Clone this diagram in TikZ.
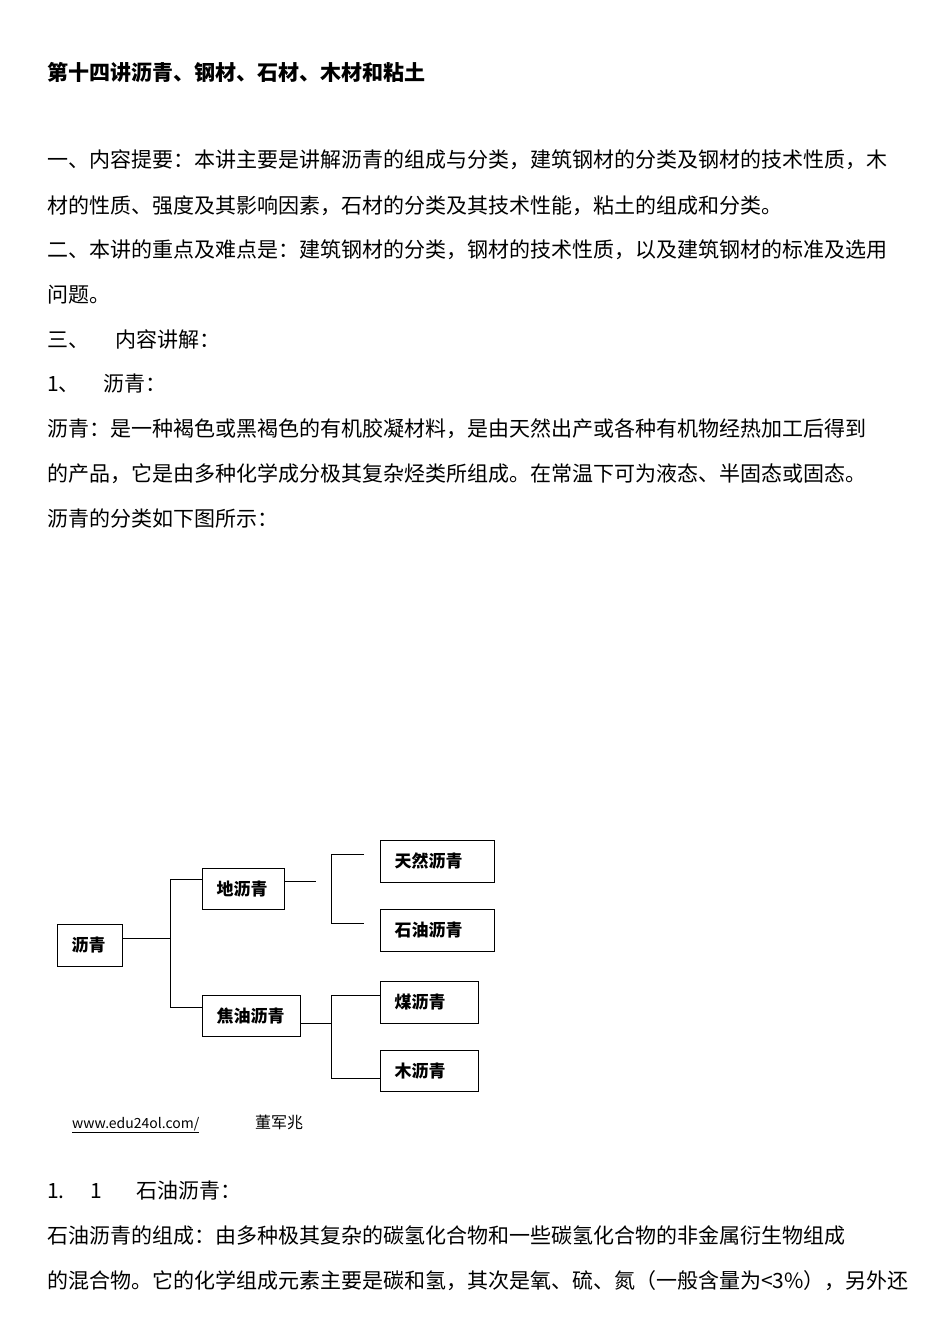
\documentclass[tikz,border=0pt]{standalone}
\usepackage{fontspec}
\setmainfont{Noto Sans CJK SC}
\newcommand{\bxt}[2]{\makebox[#1pt][l]{\hspace{14pt}#2}}
\begin{document}
\begin{tikzpicture}[x=1pt,y=-1pt,
  txt/.style={anchor=base west,inner sep=0pt,font=\fontsize{21}{21}\selectfont},
  bx/.style={draw,line width=1pt,inner sep=0pt,font=\bfseries\fontsize{17}{17}\selectfont,anchor=north west},
  ln/.style={line width=0.8pt}]
\useasboundingbox[fill=white] (0,0) rectangle (950,1344);
\node[txt,font=\bfseries\fontsize{21}{21}\selectfont] (t0) at (47,80) {第十四讲沥青、钢材、石材、木材和粘土};
\node[txt] (l1) at (47,167) {一、内容提要：本讲主要是讲解沥青的组成与分类，建筑钢材的分类及钢材的技术性质，木};
\node[txt] (l2) at (47,213) {材的性质、强度及其影响因素，石材的分类及其技术性能，粘土的组成和分类。};
\node[txt] (l3) at (47,257) {二、本讲的重点及难点是：建筑钢材的分类，钢材的技术性质，以及建筑钢材的标准及选用};
\node[txt] (l4) at (47,302) {问题。};
\node[txt] (l5a) at (47,347) {三、};
\node[txt] (l5b) at (115,347) {内容讲解：};
\node[txt] (l6a) at (47,391) {1、};
\node[txt] (l6b) at (103,391) {沥青：};
\node[txt] (l7) at (47,436) {沥青：是一种褐色或黑褐色的有机胶凝材料，是由天然出产或各种有机物经热加工后得到};
\node[txt] (l8) at (47,481) {的产品，它是由多种化学成分极其复杂烃类所组成。在常温下可为液态、半固态或固态。};
\node[txt] (l9) at (47,526) {沥青的分类如下图所示：};
% diagram
\node[bx,minimum height=42pt] (a) at (57,924) {\bxt{65}{沥青}};
\node[bx,minimum height=41pt] (b) at (202,868) {\bxt{82}{地沥青}};
\node[bx,minimum height=41pt] (c) at (202,995) {\bxt{98}{焦油沥青}};
\node[bx,minimum height=42pt] (d) at (380,840) {\bxt{114}{天然沥青}};
\node[bx,minimum height=42pt] (e) at (380,909) {\bxt{114}{石油沥青}};
\node[bx,minimum height=42pt] (f) at (380,981) {\bxt{98}{煤沥青}};
\node[bx,minimum height=41pt] (g) at (380,1050) {\bxt{98}{木沥青}};
\coordinate (j1) at (170,938);
\coordinate (j2) at (316,881);
\coordinate (j3) at (364,854);
\coordinate (j4) at (364,923);
\draw[ln] (a.east |- j1) -- (j1);
\draw[ln] (b.west |- 0,879) -| (170,1007) -- (c.west |- 0,1007);
\draw[ln] (b.east |- j2) -- (j2);
\draw[ln] (j3) -- (331,854) |- (j4);
\draw[ln] (c.east |- 0,1023) -- (331,1023);
\draw[ln] (f.west |- 0,995) -- (331,995) |- (g.west |- 0,1078);
\node[txt,font=\fontsize{14}{14}\selectfont] (w) at (72,1128) {\underline{www.edu24ol.com/}};
\node[txt,font=\fontsize{16}{16}\selectfont] (n) at (255,1128) {董军兆};
% lower text
\node[txt] (m1a) at (47,1198) {1.};
\node[txt] (m1b) at (90,1198) {1};
\node[txt] (m1c) at (136,1198) {石油沥青：};
\node[txt] (m2) at (47,1243) {石油沥青的组成：由多种极其复杂的碳氢化合物和一些碳氢化合物的非金属衍生物组成};
\node[txt] (m3) at (47,1288) {的混合物。它的化学组成元素主要是碳和氢，其次是氧、硫、氮（一般含量为<3\%），另外还};
\end{tikzpicture}
\end{document}
